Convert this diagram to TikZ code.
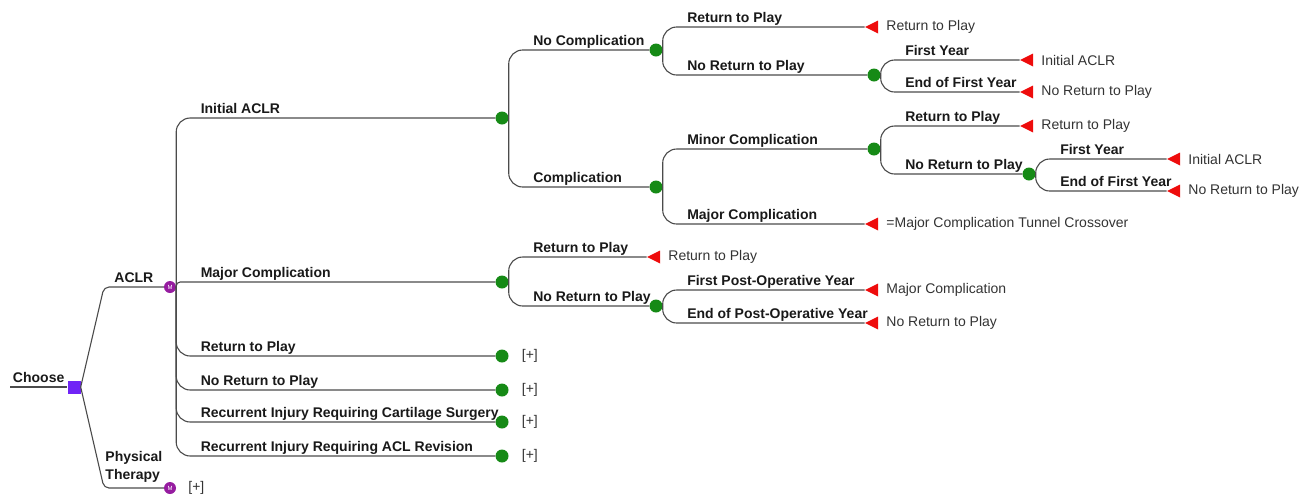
\documentclass[tikz,border=0pt]{standalone}
\usepackage{fontspec}
\setmainfont{Liberation Sans}
\usetikzlibrary{shapes.geometric,positioning}

\definecolor{choiceblue}{RGB}{112,36,246}
\definecolor{markovpurple}{RGB}{150,28,160}
\definecolor{chancegreen}{RGB}{22,138,22}
\definecolor{endred}{RGB}{238,12,12}
\definecolor{twiggray}{RGB}{75,75,75}

\tikzset{
  choice/.style={rectangle, fill=choiceblue, minimum size=13pt, inner sep=0pt},
  markov/.style={circle, fill=markovpurple, minimum size=12pt, inner sep=0pt,
    text=white, font=\fontsize{6}{6}\selectfont},
  chance/.style={circle, fill=chancegreen, minimum size=13pt, inner sep=0pt},
  terminal/.style={isosceles triangle, isosceles triangle stretches,
    shape border rotate=180, fill=endred, minimum width=13pt,
    minimum height=13pt, inner sep=0pt},
  twig/.style={draw=twiggray, line width=1.1pt, rounded corners=14pt},
  branch/.style={anchor=base west, xshift=24pt, yshift=5pt, inner sep=0pt,
    text=black!90, font=\fontsize{14}{16}\selectfont\bfseries},
  stemlabel/.style={anchor=base, yshift=5pt, inner sep=0pt,
    text=black!90, font=\fontsize{14}{18}\selectfont\bfseries},
  outcome/.style={inner sep=0pt, text=black!80, font=\fontsize{14}{16}\selectfont},
  collapsed/.style={inner sep=0pt, text=black!80, font=\fontsize{14}{16}\selectfont}
}

\begin{document}
\begin{tikzpicture}[x=1pt, y=-1pt]
\useasboundingbox (0,0) rectangle (1313,499);

% choice between the two treatments
\coordinate (root) at (10,387);
\node[choice] (D) at (74,387) {};
\node[markov] (M1) at (170,287) {M};
\node[markov] (M2) at (170,488) {M};
\coordinate (k1) at (104,287);
\coordinate (k2) at (104,488);
\draw[twig] (root) -- node[stemlabel]{Choose} (D);
\draw[twig, rounded corners=5pt] (D.east) -- (k1) -- node[stemlabel]{ACLR} (M1);
\draw[twig, rounded corners=5pt] (D.east) -- (k2) --
  node[stemlabel, anchor=south, align=left]{Physical\\Therapy} (M2);
\node[collapsed, right=12pt of M2] (M2p) {[+]};

% markov states of ACLR
\node[chance] (C1) at (502,118) {};
\node[chance] (C7) at (502,282) {};
\draw[twig] (M1.east) |- node[branch]{Initial ACLR} (C1);
\draw[twig, rounded corners=4pt] (M1.east) |- node[branch]{Major Complication} (C7);
\foreach \name/\y/\txt in {Ra/356/Return to Play, Rb/390/No Return to Play,
    Rc/422/Recurrent Injury Requiring Cartilage Surgery,
    Rd/456/Recurrent Injury Requiring ACL Revision} {
  \node[chance] (\name) at (502,\y) {};
  \node[collapsed, right=13pt of \name] (\name p) {[+]};
  \draw[twig] (M1.east) |- node[branch]{\txt} (\name);
}

% initial ACLR
\node[chance] (C2) at (656,50) {};
\node[chance] (C3) at (656,187) {};
\draw[twig] (C1.east) |- node[branch]{No Complication} (C2);
\draw[twig] (C1.east) |- node[branch]{Complication} (C3);

\node[terminal] (T1) at (874,27) {};
\node[chance] (C4) at (874,75) {};
\draw[twig] (C2.east) |- node[branch]{Return to Play} (T1);
\draw[twig] (C2.east) |- node[branch]{No Return to Play} (C4);

\node[terminal] (T2) at (1029,60) {};
\node[terminal] (T3) at (1029,92) {};
\draw[twig] (C4.east) |- node[branch]{First Year} (T2);
\draw[twig] (C4.east) |- node[branch]{End of First Year} (T3);

\node[chance] (C5) at (874,149) {};
\node[terminal] (T7) at (874,224) {};
\draw[twig] (C3.east) |- node[branch]{Minor Complication} (C5);
\draw[twig] (C3.east) |- node[branch]{Major Complication} (T7);

\node[terminal] (T4) at (1029,126) {};
\node[chance] (C6) at (1029,174) {};
\draw[twig] (C5.east) |- node[branch]{Return to Play} (T4);
\draw[twig] (C5.east) |- node[branch]{No Return to Play} (C6);

\node[terminal] (T5) at (1176,159) {};
\node[terminal] (T6) at (1176,191) {};
\draw[twig] (C6.east) |- node[branch]{First Year} (T5);
\draw[twig] (C6.east) |- node[branch]{End of First Year} (T6);

% major complication
\node[terminal] (T8) at (656,257) {};
\node[chance] (C8) at (656,306) {};
\draw[twig] (C7.east) |- node[branch]{Return to Play} (T8);
\draw[twig] (C7.east) |- node[branch]{No Return to Play} (C8);

\node[terminal] (T9) at (874,290) {};
\node[terminal] (T10) at (874,323) {};
\draw[twig] (C8.east) |- node[branch]{First Post-Operative Year} (T9);
\draw[twig] (C8.east) |- node[branch]{End of Post-Operative Year} (T10);

% outcomes
\foreach \t/\txt in {T1/Return to Play, T2/Initial ACLR, T3/No Return to Play,
    T4/Return to Play, T5/Initial ACLR, T6/No Return to Play,
    T7/=Major Complication Tunnel Crossover, T8/Return to Play,
    T9/Major Complication, T10/No Return to Play}
  \node[outcome, right=8pt of \t] (\t o) {\txt};
\end{tikzpicture}
\end{document}
